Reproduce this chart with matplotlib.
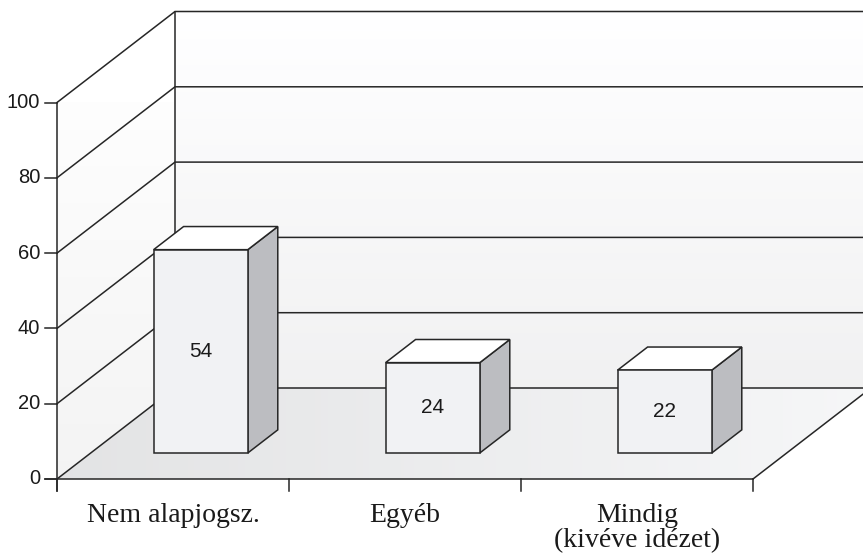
import numpy as np
import matplotlib
matplotlib.use("Agg")
import matplotlib.pyplot as plt
from matplotlib.patches import Polygon

# data
categories = ["Nem alapjogsz.", "Egyéb", "Mindig\n(kivéve idézet)"]
values = [54, 24, 22]
y_ticks = [0, 20, 40, 60, 80, 100]

# oblique "3D" geometry (pixels)
X0, Y0 = 57, 479          # front-left corner of the floor
CAT_W = 232               # width of one category on the floor
V_SCALE = 75.3 / 20       # pixels per value unit
DX, DY = 118, -91         # depth vector of the floor
BAR_HALF = 0.203          # half bar width, category units
BAR_SHIFT = -0.026        # bar centre shift, category units
D_FRONT, D_BACK = 0.286, 0.54

LINE = "#262626"
LW = 1.1


def proj(c, v, d):
    return (X0 + c * CAT_W + d * DX, Y0 - v * V_SCALE + d * DY)


fig = plt.figure(figsize=(8.63, 5.53), dpi=100)
ax = fig.add_axes([0, 0, 1, 1])
ax.set_xlim(0, 863)
ax.set_ylim(553, 0)
ax.axis("off")

n = len(categories)
vmax = y_ticks[-1]

# back wall
bw = [proj(0, 0, 1), proj(n, 0, 1), proj(n, vmax, 1), proj(0, vmax, 1)]
bw_patch = Polygon(bw, closed=True, facecolor="none", edgecolor="none")
ax.add_patch(bw_patch)
grad = np.linspace(1.0, 0.945, 256).reshape(-1, 1)
im = ax.imshow(np.dstack([grad, grad, grad * 1.003]).clip(0, 1),
               extent=(bw[0][0], bw[1][0], bw[0][1], bw[3][1]),
               aspect="auto", origin="upper", zorder=1)
im.set_clip_path(bw_patch)

# left wall
lw_pts = [proj(0, 0, 0), proj(0, 0, 1), proj(0, vmax, 1), proj(0, vmax, 0)]
lw_patch = Polygon(lw_pts, closed=True, facecolor="none", edgecolor="none")
ax.add_patch(lw_patch)
grad = np.linspace(0.995, 0.955, 256).reshape(-1, 1)
im = ax.imshow(np.dstack([grad, grad, grad]),
               extent=(lw_pts[0][0], lw_pts[1][0], lw_pts[0][1], lw_pts[3][1]),
               aspect="auto", origin="upper", zorder=1)
im.set_clip_path(lw_patch)

# floor
fl = [proj(0, 0, 0), proj(n, 0, 0), proj(n, 0, 1), proj(0, 0, 1)]
fl_patch = Polygon(fl, closed=True, facecolor="none", edgecolor="none")
ax.add_patch(fl_patch)
grad = np.linspace(0.89, 0.965, 256).reshape(1, -1)
im = ax.imshow(np.dstack([grad, grad * 1.003, grad * 1.008]).clip(0, 1),
               extent=(fl[0][0], fl[2][0], fl[0][1], fl[2][1]),
               aspect="auto", origin="upper", zorder=1)
im.set_clip_path(fl_patch)

# gridlines on the walls
for t in y_ticks:
    xa, ya = proj(0, t, 0)
    xb, yb = proj(0, t, 1)
    xc, yc = proj(n, t, 1)
    ax.plot([xa, xb, xc], [ya, yb, yc], color=LINE, lw=LW, zorder=2,
            solid_joinstyle="miter")

# wall edges
ax.plot(*zip(proj(0, 0, 1), proj(0, vmax, 1)), color=LINE, lw=LW, zorder=2)
ax.plot(*zip(proj(n, 0, 0), proj(n, 0, 1)), color=LINE, lw=LW, zorder=2)

# bars
for i, v in enumerate(values):
    c = i + 0.5 + BAR_SHIFT
    l, r = c - BAR_HALF, c + BAR_HALF
    side = [proj(r, 0, D_FRONT), proj(r, 0, D_BACK),
            proj(r, v, D_BACK), proj(r, v, D_FRONT)]
    top = [proj(l, v, D_FRONT), proj(r, v, D_FRONT),
           proj(r, v, D_BACK), proj(l, v, D_BACK)]
    front = [proj(l, 0, D_FRONT), proj(r, 0, D_FRONT),
             proj(r, v, D_FRONT), proj(l, v, D_FRONT)]
    for pts, fc in [(side, "#bcbdc1"), (top, "#ffffff"), (front, "#f1f2f4")]:
        ax.add_patch(Polygon(pts, closed=True, facecolor=fc, edgecolor=LINE,
                             lw=LW, joinstyle="miter", zorder=3))
    cx, cy = proj(c, v / 2, D_FRONT)
    ax.text(cx, cy, str(v), ha="center", va="center", fontsize=15,
            family="Liberation Sans", color="#1a1a1a", zorder=4)

# front axes
ax.plot(*zip(proj(0, vmax, 0), (X0, Y0 + 12)), color=LINE, lw=LW, zorder=5)
ax.plot(*zip((X0 - 12, Y0), proj(n, 0, 0)), color=LINE, lw=LW, zorder=5)
for t in y_ticks:
    x, y = proj(0, t, 0)
    ax.plot([x - 12, x], [y, y], color=LINE, lw=LW, zorder=5)
    ax.text(x - 17, y, str(t), ha="right", va="center", fontsize=14.5,
            family="Liberation Sans", color="#1a1a1a")
for k in range(n + 1):
    x, y = proj(k, 0, 0)
    ax.plot([x, x], [y, y + 12], color=LINE, lw=LW, zorder=5)

for i, name in enumerate(categories):
    x, y = proj(i + 0.5, 0, 0)
    ax.text(x, 503, name, ha="center", va="top", fontsize=20,
            family="Liberation Serif", color="#1a1a1a", linespacing=1.02)

fig.savefig("out.png", dpi=100)
